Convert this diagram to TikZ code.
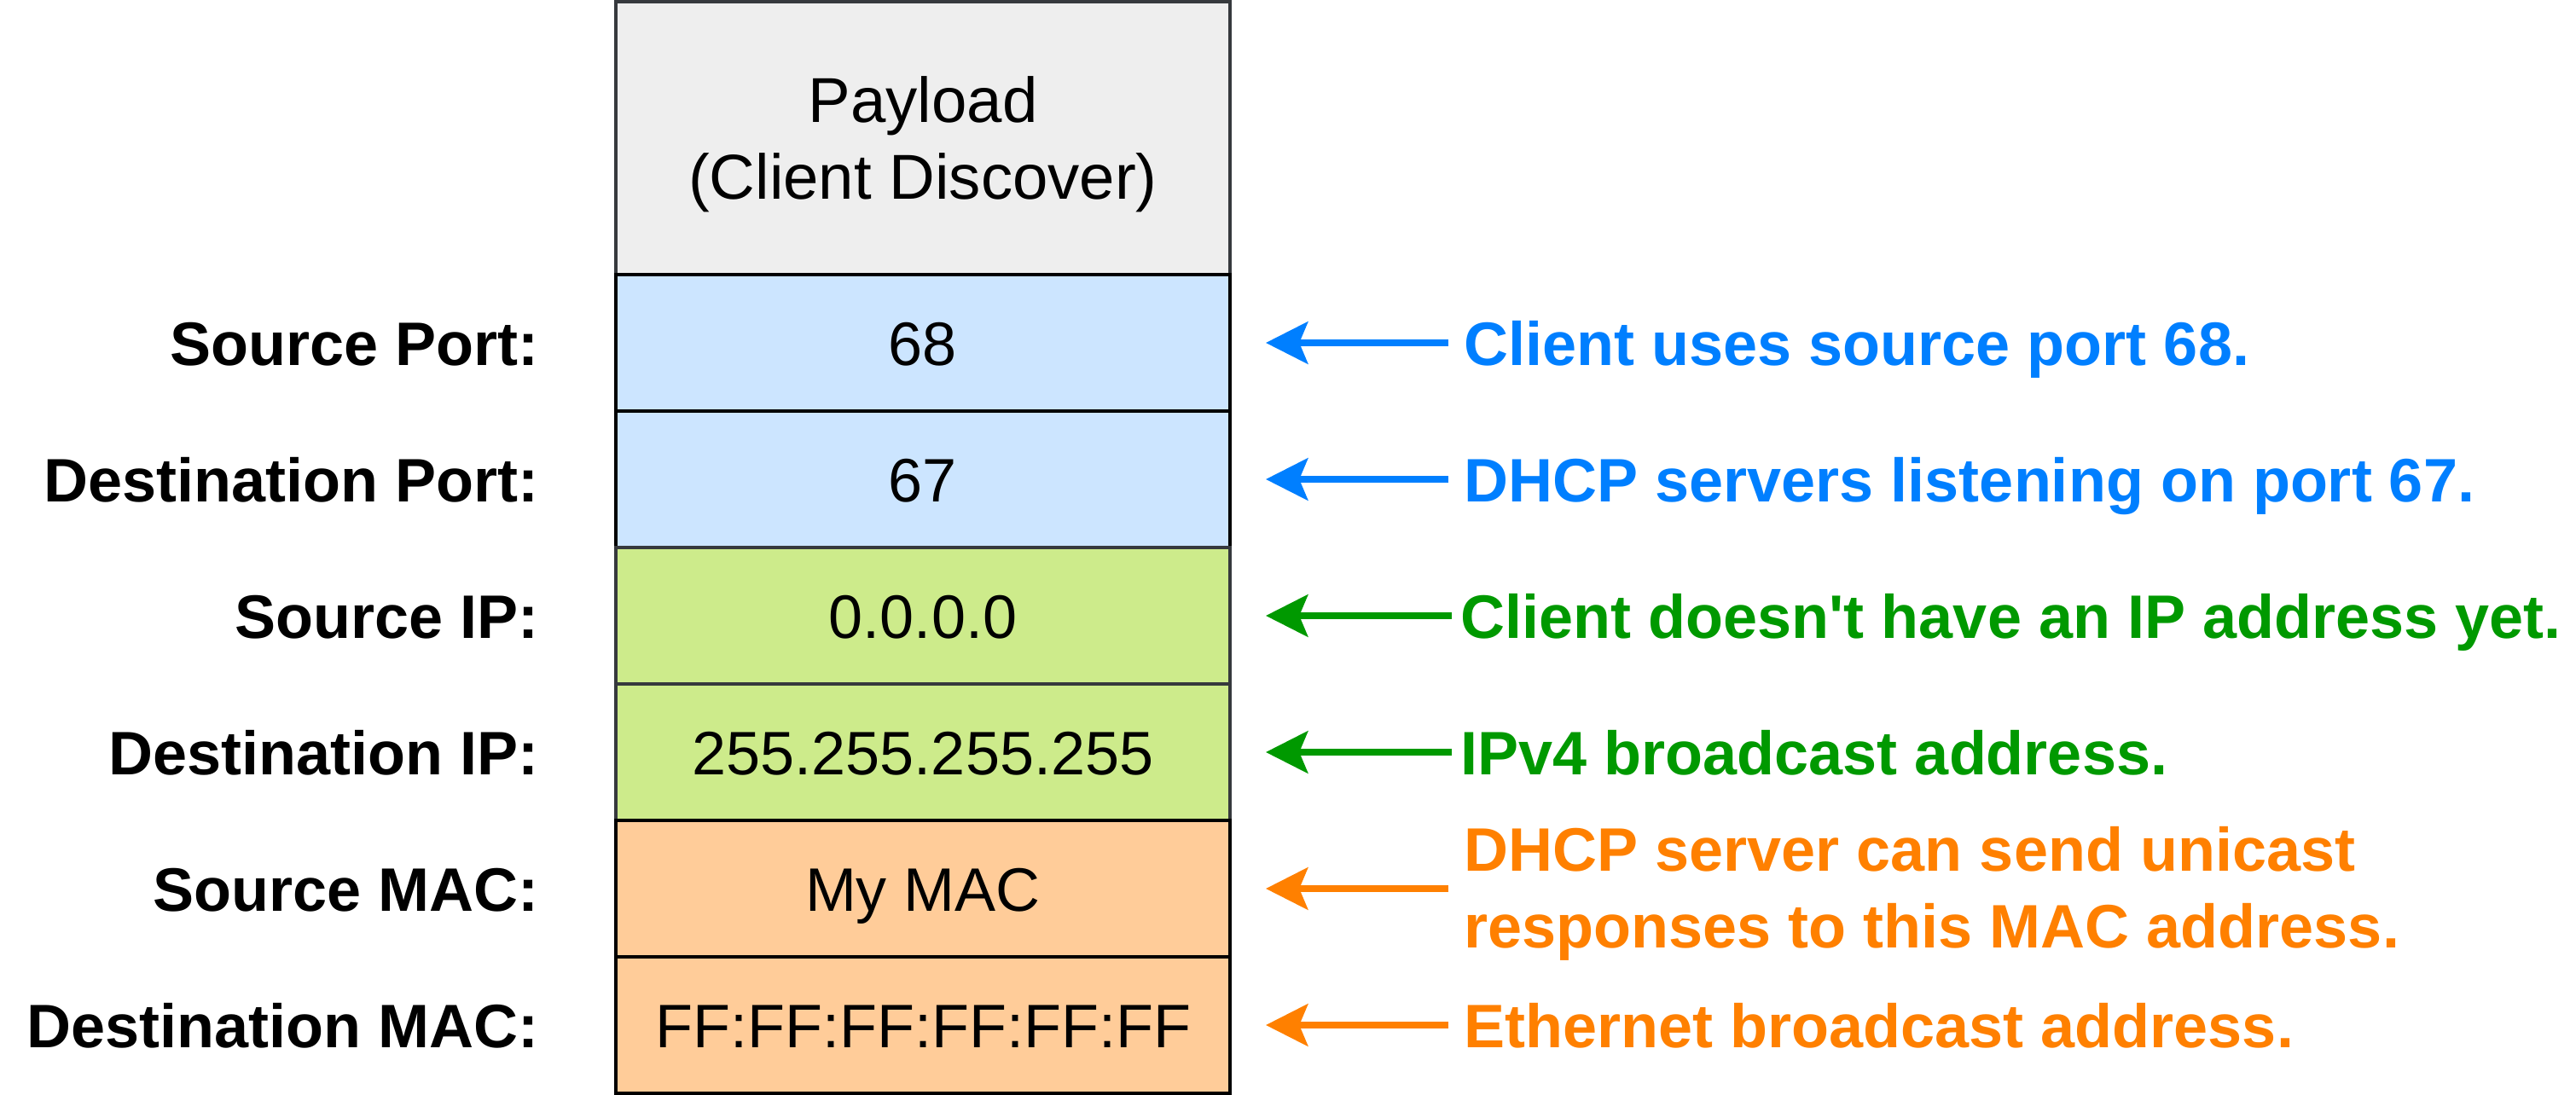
\documentclass[tikz,border=0pt]{standalone}
\usepackage{fontspec}
\setmainfont{Liberation Sans}
\usetikzlibrary{positioning, arrows.meta}
\definecolor{payfill}{HTML}{EEEEEE}
\definecolor{portfill}{HTML}{CCE5FF}
\definecolor{ipfill}{HTML}{CDEB8B}
\definecolor{macfill}{HTML}{FFCC99}
\definecolor{boxgray}{HTML}{36393D}
\definecolor{noteblue}{HTML}{007FFF}
\definecolor{notegreen}{HTML}{009900}
\definecolor{noteorange}{HTML}{FF8000}
\tikzstyle{fld}=[draw=black,line width=0.9pt,minimum width=180pt,minimum height=40pt,inner sep=0pt,outer sep=0pt,font=\fontsize{18}{22.5}\selectfont]
\tikzstyle{one}=[text height=13pt,text depth=0pt]
\tikzstyle{lbl}=[one,inner sep=0pt,font=\fontsize{18}{22}\selectfont\bfseries]
\tikzstyle{note}=[inner sep=4.5pt,align=left,font=\fontsize{18}{22.5}\selectfont\bfseries]
\tikzstyle{ptr}=[-{Stealth[length=12.3pt,width=12.3pt,inset=2.5pt]},line width=2pt,shorten >=10.5pt]

\begin{document}
\begin{tikzpicture}[x=1pt,y=-1pt]
    \useasboundingbox (0,0) rectangle (755,321);
    % packet fields, top to bottom
    \node[fld,fill=payfill,draw=boxgray,minimum height=80pt,align=center,font=\fontsize{18.6}{22.5}\selectfont] (pay) at (270.5,40.5) {\rule{0pt}{17pt}Payload\\(Client Discover)};
    \foreach \n/\p/\f/\d/\v/\lab in {sport/pay/portfill/black/68/Source Port:, dport/sport/portfill/black/67/Destination Port:, sip/dport/ipfill/boxgray/0.0.0.0/Source IP:, dip/sip/ipfill/boxgray/255.255.255.255/Destination IP:, smac/dip/macfill/black/My MAC/Source MAC:, dmac/smac/macfill/black/FF:FF:FF:FF:FF:FF/Destination MAC:} {
        \node[fld,one,fill=\f,draw=\d,below=0pt of \p] (\n) {\v};
        \node[lbl,left=22.5pt of \n] (\n-lbl) {\lab};}
    % notes on the right
    \foreach \n/\c/\g/\s/\t in {sport/noteblue/64/4.5/{Client uses source port 68.}, dport/noteblue/64/4.5/{DHCP servers listening on port 67.}, sip/notegreen/65/2.5/{Client doesn\textquotesingle t have an IP address yet.}, dip/notegreen/65/2.5/{IPv4 broadcast address.}, dmac/noteorange/64/4.5/{Ethernet broadcast address.}} {
        \node[note,one,inner sep=\s pt,text=\c,right=\g pt of \n] (\n-note) {\t};
        \draw[ptr,\c] (\n-note.west) -- (\n.east);}
    \node[note,text=noteorange,right=64pt of smac] (smac-note) {\rule{0pt}{16pt}DHCP server can send unicast\\responses to this MAC address.};
    \draw[ptr,noteorange] (smac-note.west) -- (smac.east);
\end{tikzpicture}
\end{document}
